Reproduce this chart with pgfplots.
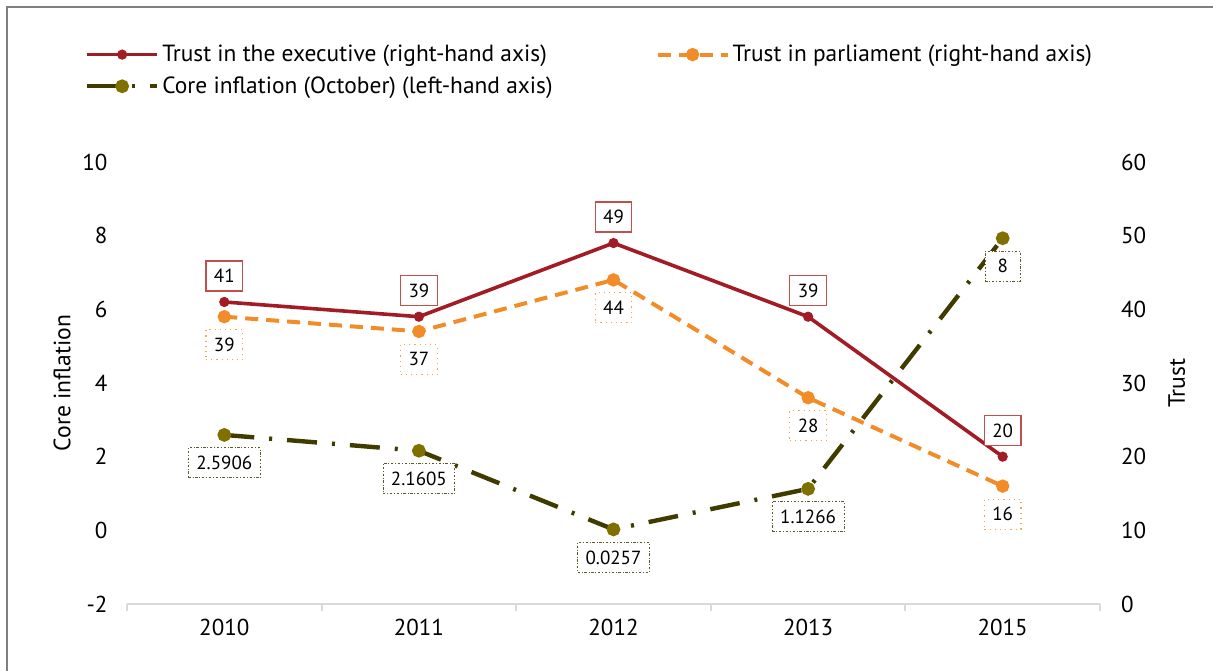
\documentclass[border=0pt]{standalone}
\usepackage{fontspec}
\setmainfont{PT Sans}
\usepackage{pgfplots}
\pgfplotsset{compat=1.18}
\definecolor{execred}{HTML}{A11C24}
\definecolor{execbox}{HTML}{C0504D}
\definecolor{parlor}{HTML}{F28C28}
\definecolor{parlbox}{HTML}{F5A34E}
\definecolor{inflline}{HTML}{403C00}
\definecolor{inflmark}{HTML}{807000}
\definecolor{axgray}{HTML}{D9D9D9}
\definecolor{framegray}{HTML}{7F7F7F}
\tikzset{
  lab/.style={font=\fontsize{9.5}{11}\selectfont, fill=white, text=black, minimum height=15pt, minimum width=17.5pt, inner xsep=4pt, inner ysep=2pt, anchor=center, line width=0.6pt},
  labexec/.style={lab, draw=execbox, solid, yshift=13pt},
  labparl/.style={lab, draw=parlbox, dotted, yshift=-14pt},
  labinfl/.style={lab, line width=0.45pt, draw=inflline!85, dash pattern=on 1.2pt off 0.9pt on 0.4pt off 0.9pt, yshift=-14pt},
}
\pgfplotsset{
  myaxis/.style={
    at={(0,0)}, anchor=south west,
    scale only axis, width=486.5pt, height=221pt,
    xmin=-0.5, xmax=4.5,
    /pgf/number format/assume math mode=true,
    tick label style={font=\fontsize{11.5}{13}\selectfont},
    label style={font=\fontsize{11.8}{13}\selectfont},
    clip=false,
  },
  legend image code/.code={\draw[mark repeat=2,mark phase=2] plot coordinates {(0pt,0pt)(17.5pt,0pt)(35pt,0pt)};},
}
\begin{document}
\begin{tikzpicture}[x=1pt,y=1pt]
\path[use as bounding box] (-63.5,-33) rectangle (543,302);
\draw[framegray, line width=1pt] (-60,-40) -- (-60,298.5) -- (550,298.5);
% left axis: core inflation
\begin{axis}[myaxis,
  ymin=-2, ymax=10, ytick={-2,0,...,10},
  axis x line*=bottom, axis y line*=left,
  y axis line style={draw=none}, ytick style={draw=none},
  yticklabel style={xshift=-2pt},
  x axis line style={axgray, line width=1pt},
  xtick={0,1,2,3,4}, xticklabels={2010,2011,2012,2013,2015},
  major x tick style={draw=none},
  minor xtick={-0.5,0.5,1.5,2.5,3.5,4.5},
  minor x tick style={axgray, line width=1pt},
  minor tick length=3.5pt, tick align=outside,
  ylabel={Core inflation},
  ylabel style={at={(axis description cs:-0.0668,0.5)}, anchor=center},
]
\addplot[inflline, line width=2.2pt, dash pattern=on 15pt off 7.5pt on 1.5pt off 7.5pt,
  mark=*, mark size=2.3pt, mark options={solid, fill=inflmark, draw=inflmark},
  point meta=explicit symbolic, nodes near coords={\pgfplotspointmeta},
  every node near coord/.style={labinfl}]
  table[meta=lab, row sep=\\] {
  x y lab \\
  0 2.5906 2.5906 \\
  1 2.1605 2.1605 \\
  2 0.0257 0.0257 \\
  3 1.1266 1.1266 \\
  4 7.93 8 \\
};
\end{axis}
% right axis: trust
\begin{axis}[myaxis,
  ymin=0, ymax=60, ytick={0,10,...,60},
  axis x line=none, axis y line*=right,
  y axis line style={draw=none}, ytick style={draw=none},
  yticklabel style={xshift=7pt},
  ylabel={Trust},
  ylabel style={at={(axis description cs:1.079,0.5)}, anchor=center},
  legend columns=2,
  legend style={at={(axis description cs:-0.0432,1.272)}, anchor=north west,
    draw=none, fill=none, inner sep=0pt, outer sep=0pt,
    font=\fontsize{11.7}{13}\selectfont, row sep=3pt,
    nodes={inner sep=1.5pt},
    /tikz/every even column/.append style={column sep=50pt}},
  legend cell align=left,
]
\addplot[execred, line width=1.8pt, mark=*, mark size=1.6pt,
  point meta=explicit symbolic, nodes near coords={\pgfplotspointmeta},
  every node near coord/.style={labexec}]
  table[meta=lab, row sep=\\] {
  x y lab \\
  0 41 41 \\
  1 39 39 \\
  2 49 49 \\
  3 39 39 \\
  4 20 20 \\
};
\addlegendentry{Trust in the executive (right-hand axis)}
\addplot[parlor, line width=2pt, dash pattern=on 6.5pt off 4pt, mark=*, mark size=2.3pt, mark options={solid},
  point meta=explicit symbolic, nodes near coords={\pgfplotspointmeta},
  every node near coord/.style={labparl}]
  table[meta=lab, row sep=\\] {
  x y lab \\
  0 39 39 \\
  1 37 37 \\
  2 44 44 \\
  3 28 28 \\
  4 16 16 \\
};
\addlegendentry{Trust in parliament (right-hand axis)}
\addlegendimage{inflline, line width=2.2pt, dash pattern=on 15pt off 7.5pt on 1.5pt off 7.5pt,
  mark=*, mark size=2.3pt, mark options={solid, fill=inflmark, draw=inflmark}}
\addlegendentry{Core inflation (October) (left-hand axis)}
\end{axis}
\end{tikzpicture}
\end{document}
